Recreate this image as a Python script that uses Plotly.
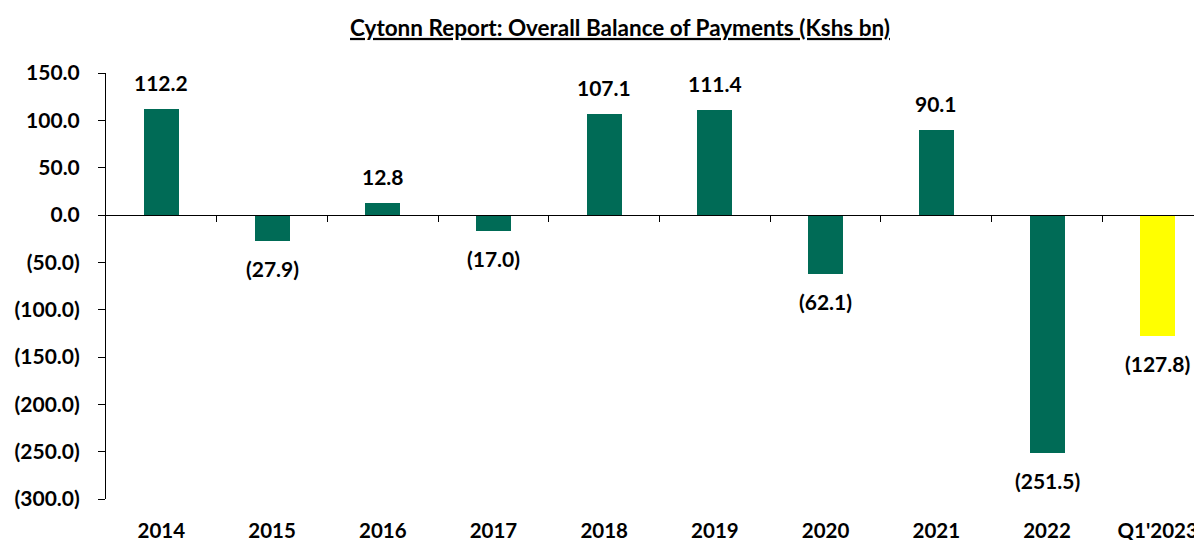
import plotly.graph_objects as go

categories = ["2014", "2015", "2016", "2017", "2018", "2019", "2020", "2021", "2022", "Q1'2023"]
values = [112.2, -27.9, 12.8, -17.0, 107.1, 111.4, -62.1, 90.1, -251.5, -127.8]
bar_colors = ["#006B56"] * 9 + ["#FFFF00"]
y_ticks = [150, 100, 50, 0, -50, -100, -150, -200, -250, -300]


def fmt(v):
    return f"({abs(v):.1f})" if v < 0 else f"{v:.1f}"


FONT = "Lato"
W, H = 1194, 532  # page body has an 8px margin
X_RANGE = [-0.5, 9.4]  # plot area is cropped on the right in the original

fig = go.Figure()
fig.add_trace(go.Bar(
    x=categories, y=values, marker=dict(color=bar_colors, line=dict(width=0)),
    width=0.316, hoverinfo="skip", showlegend=False,
))
# empty trace so the zero-line axis is drawn
fig.add_trace(go.Scatter(x=[], y=[], xaxis="x2", yaxis="y", showlegend=False))

for i, v in enumerate(values):
    fig.add_annotation(
        x=i, y=v, xref="x", yref="y", text=fmt(v), showarrow=False,
        yanchor="bottom" if v >= 0 else "top",
        yshift=12 if v >= 0 else -13,
        font=dict(family=FONT, size=21, color="#000000", weight="bold"),
    )

ymin, ymax = -300, 150
zero_pos = (0 - ymin) / (ymax - ymin)

fig.update_layout(
    width=W, height=H,
    margin=dict(l=98, r=0, t=65, b=41, autoexpand=False),
    paper_bgcolor="white", plot_bgcolor="white",
    title=dict(
        text="<u>Cytonn Report: Overall Balance of Payments (Kshs bn)</u>",
        x=612 / W, xanchor="center", xref="container",
        y=1 - 20 / H, yanchor="middle", yref="container",
        font=dict(family=FONT, size=22.5, color="#000000", weight="bold"),
    ),
    xaxis=dict(
        type="category", range=X_RANGE, showline=False, ticks="",
        showgrid=False, zeroline=False, automargin=False,
        tickfont=dict(family=FONT, size=20.5, color="#000000", weight="bold"),
        ticklabelstandoff=17,
    ),
    xaxis2=dict(
        overlaying="x", anchor="free", position=zero_pos, side="bottom",
        range=X_RANGE, showgrid=False, zeroline=False, automargin=False,
        showline=True, linecolor="#000000", linewidth=1,
        ticks="outside", ticklen=6, tickcolor="#000000", tickwidth=1,
        tickvals=[i + 0.5 for i in range(len(categories) - 1)],
        showticklabels=False,
    ),
    yaxis=dict(
        range=[ymin, ymax], tickvals=y_ticks, ticktext=[fmt(v) for v in y_ticks],
        showgrid=False, zeroline=False, showline=True, linecolor="#000000", linewidth=1,
        ticks="outside", ticklen=7, tickcolor="#000000", automargin=False,
        tickfont=dict(family=FONT, size=21, color="#000000", weight="bold"),
        ticklabelstandoff=14,
    ),
    bargap=0,
)

fig.write_html("out.html")
